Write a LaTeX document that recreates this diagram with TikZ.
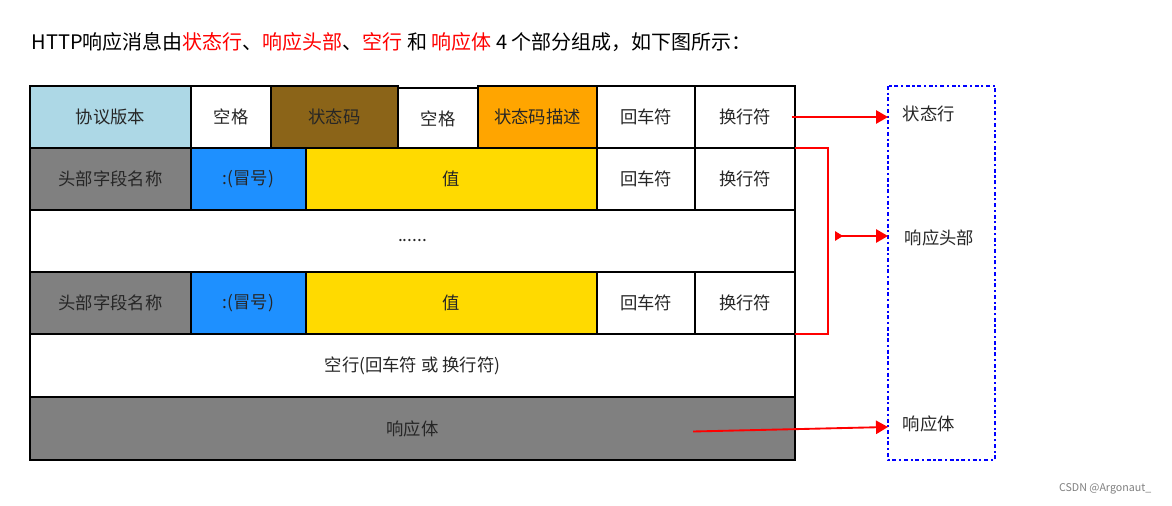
\documentclass[tikz,border=0pt]{standalone}
\usepackage{fontspec}
\setmainfont{Noto Sans CJK SC}
\usetikzlibrary{arrows.meta}
\definecolor{protoblue}{HTML}{ADD8E6}
\definecolor{codebrown}{HTML}{8B6418}
\definecolor{descorange}{HTML}{FFA500}
\definecolor{colonblue}{HTML}{1E90FF}
\definecolor{valyellow}{HTML}{FFDA00}
\definecolor{fieldgray}{HTML}{808080}
\newcommand\cell[7]{%
  \draw[cellbox,fill=#6] (#2,#3) rectangle (#4,#5);
  \node[celltext] (#1) at ({(#2+#4)/2},{(#3+#5)/2}) {#7};}
\tikzset{
  cellbox/.style={line width=1.8pt},
  celltext/.style={font=\fontsize{13}{15}\selectfont, text=black!85},
  redarrow/.style={red, line width=1.4pt, -{Triangle[length=9pt,width=10pt]}},
}
\begin{document}
\begin{tikzpicture}[x=0.75pt,y=-0.75pt]
    \useasboundingbox[fill=white] (0,0) rectangle (1172,506);
    \node[anchor=west, font=\fontsize{15}{18}\selectfont] (title) at (27,42)
      {HTTP响应消息由\textcolor{red}{状态行}、\textcolor{red}{响应头部}、\textcolor{red}{空行} 和 \textcolor{red}{响应体} 4 个部分组成，如下图所示：};
    % status line
    \cell{ver}{30}{86}{191}{148}{protoblue}{协议版本}
    \cell{sp1}{191}{86}{271}{148}{white}{空格}
    \cell{code}{271}{86}{398}{148}{codebrown}{状态码}
    \cell{sp2}{398}{88}{478}{150}{white}{空格}
    \cell{desc}{478}{86}{597}{148}{descorange}{状态码描述}
    \cell{cr1}{597}{86}{695}{148}{white}{回车符}
    \cell{lf1}{695}{86}{795}{148}{white}{换行符}
    % header lines
    \foreach \y/\n in {148/a,272/b}{
      \cell{name\n}{30}{\y}{191}{\y+62}{fieldgray}{头部字段名称}
      \cell{colon\n}{191}{\y}{306}{\y+62}{colonblue}{:(冒号)}
      \cell{val\n}{306}{\y}{597}{\y+62}{valyellow}{值}
      \cell{cr\n}{597}{\y}{695}{\y+62}{white}{回车符}
      \cell{lf\n}{695}{\y}{795}{\y+62}{white}{换行符}
    }
    \cell{dots}{30}{210}{795}{272}{white}{......}
    \cell{blank}{30}{334}{795}{397}{white}{空行(回车符 或 换行符)}
    \cell{body}{30}{397}{795}{460}{fieldgray}{响应体}
    % right side
    \draw[blue, line width=1.6pt, dash dot] (888,86) rectangle (995,460);
    \node[celltext, anchor=west] (lstatus) at (898,114) {状态行};
    \node[celltext, anchor=west] (lheader) at (900,238) {响应头部};
    \node[celltext, anchor=west] (lbody) at (898,424) {响应体};
    \coordinate (hook) at (835,236);
    \draw[redarrow] (lf1.east) ++(16,0) -- (888,117);
    \draw[red, line width=1.4pt] (795,148) -- (828,148) -- (828,334) -- (795,334);
    \draw[redarrow, {Triangle[reversed,length=6pt,width=7pt]}-{Triangle[length=9pt,width=10pt]}] (hook) -- (888,236);
    \draw[redarrow] (body.east) ++(250,3) -- (888,427);
    \node[text=gray, font=\fontsize{8}{10}\selectfont, anchor=east] (mark) at (1156,489) {CSDN @Argonaut\_};
\end{tikzpicture}
\end{document}
